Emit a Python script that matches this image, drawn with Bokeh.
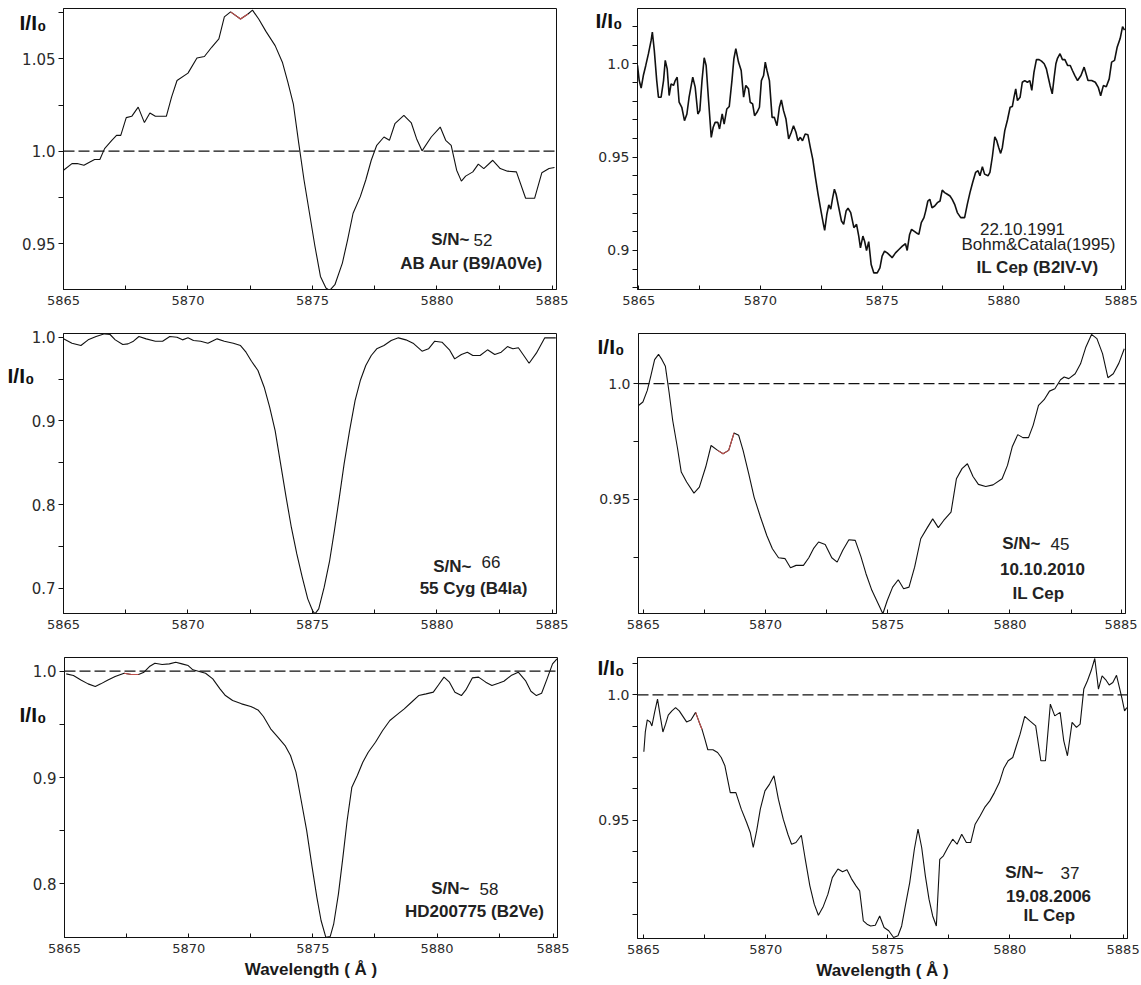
from bokeh.plotting import figure
from bokeh.models import Range1d, FixedTicker, Label, Span, NumeralTickFormatter, LinearAxis
from bokeh.layouts import column, row
from bokeh.embed import file_html
from bokeh.resources import INLINE

# ---------------- data (wavelength [A], I/I0) ----------------
AB_AUR = [(5865.00,0.9897),(5865.34,0.9933),(5865.55,0.9933),(5865.82,0.9924),(5866.06,0.9942),(5866.25,0.9955),
          (5866.46,0.9955),(5866.65,1.0014),(5866.94,1.0059),(5867.13,1.0086),(5867.30,1.0086),(5867.52,1.0182),
          (5867.74,1.0189),(5868.00,1.0239),(5868.25,1.0155),(5868.47,1.0207),(5868.69,1.0189),(5869.13,1.0189),
          (5869.34,1.0293),(5869.56,1.0383),(5870.00,1.0423),(5870.36,1.0505),(5870.66,1.0513),(5870.95,1.0563),
          (5871.24,1.0608),(5871.46,1.0728),(5871.71,1.0755),(5872.11,1.0716),(5872.41,1.0743),(5872.59,1.0764),
          (5872.84,1.0716),(5873.13,1.0649),(5873.50,1.0572),(5873.79,1.0482),(5874.01,1.0374),(5874.23,1.0257),
          (5874.45,1.0041),(5874.66,0.9844),(5874.88,0.9664),(5875.10,0.9484),(5875.32,0.9322),(5875.54,0.9259),
          (5875.69,0.9246),(5875.90,0.9277),(5876.20,0.9394),(5876.41,0.9520),(5876.63,0.9664),(5876.92,0.9754),
          (5877.14,0.9844),(5877.36,0.9951),(5877.58,1.0032),(5877.87,1.0077),(5878.09,1.0059),(5878.31,1.0149),
          (5878.67,1.0194),(5878.97,1.0153),(5879.18,1.0068),(5879.40,1.0002),(5879.77,1.0077),(5880.13,1.0131),
          (5880.35,1.0059),(5880.57,1.0032),(5880.79,0.9897),(5880.98,0.9838),(5881.15,0.9865),(5881.44,0.9888),
          (5881.66,0.9930),(5881.88,0.9906),(5882.24,0.9951),(5882.54,0.9906),(5882.83,0.9892),(5883.19,0.9888),
          (5883.56,0.9745),(5883.92,0.9745),(5884.21,0.9883),(5884.50,0.9906),(5884.72,0.9912)]

IL_CEP_1991 = [(5864.95,0.9991),(5865.02,0.9910),(5865.10,0.9870),(5865.19,0.9937),(5865.29,0.9991),(5865.40,1.0054),
          (5865.51,1.0125),(5865.56,1.0170),(5865.64,1.0072),(5865.74,0.9910),(5865.81,0.9821),(5865.92,0.9821),
          (5866.02,0.9910),(5866.09,1.0018),(5866.17,0.9973),(5866.25,0.9830),(5866.33,0.9892),(5866.43,0.9884),
          (5866.50,0.9910),(5866.58,0.9928),(5866.66,0.9794),(5866.77,0.9767),(5866.88,0.9695),(5866.98,0.9731),
          (5867.07,0.9821),(5867.22,0.9928),(5867.32,0.9875),(5867.43,0.9731),(5867.51,0.9749),(5867.60,0.9910),
          (5867.69,1.0032),(5867.77,0.9991),(5867.87,0.9803),(5867.98,0.9606),(5868.06,0.9660),(5868.14,0.9686),
          (5868.25,0.9686),(5868.32,0.9651),(5868.43,0.9731),(5868.51,0.9677),(5868.62,0.9758),(5868.72,0.9771),
          (5868.83,0.9910),(5868.91,1.0027),(5868.99,1.0081),(5869.10,1.0009),(5869.21,0.9964),(5869.31,0.9821),
          (5869.40,0.9884),(5869.51,0.9866),(5869.58,0.9794),(5869.68,0.9785),(5869.76,0.9722),(5869.86,0.9740),
          (5869.96,0.9767),(5870.04,0.9910),(5870.13,0.9937),(5870.20,1.0009),(5870.27,0.9964),(5870.37,0.9910),
          (5870.48,0.9713),(5870.57,0.9713),(5870.68,0.9668),(5870.78,0.9767),(5870.86,0.9806),(5870.95,0.9749),
          (5871.05,0.9704),(5871.16,0.9597),(5871.27,0.9633),(5871.36,0.9668),(5871.46,0.9633),(5871.54,0.9588),
          (5871.64,0.9606),(5871.73,0.9588),(5871.84,0.9624),(5871.95,0.9620),(5872.05,0.9552),(5872.15,0.9489),
          (5872.26,0.9391),(5872.37,0.9301),(5872.49,0.9211),(5872.59,0.9140),(5872.64,0.9108),(5872.73,0.9194),
          (5872.81,0.9244),(5872.89,0.9221),(5872.97,0.9283),(5873.04,0.9328),(5873.11,0.9301),(5873.22,0.9229),
          (5873.33,0.9158),(5873.42,0.9140),(5873.52,0.9211),(5873.60,0.9226),(5873.71,0.9203),(5873.84,0.9122),
          (5873.95,0.9140),(5874.04,0.9077),(5874.11,0.9014),(5874.21,0.9077),(5874.28,0.9050),(5874.36,0.9000),
          (5874.45,0.9047),(5874.55,0.8925),(5874.66,0.8880),(5874.80,0.8880),(5874.91,0.8907),(5875.00,0.8970),
          (5875.10,0.8996),(5875.21,0.8987),(5875.35,0.8970),(5875.41,0.8961),(5875.55,0.8987),(5875.69,0.9005),
          (5875.83,0.9023),(5875.96,0.9036),(5876.03,0.9000),(5876.13,0.9086),(5876.21,0.9113),(5876.31,0.9104),
          (5876.40,0.9095),(5876.51,0.9086),(5876.61,0.9149),(5876.72,0.9176),(5876.79,0.9211),(5876.88,0.9265),
          (5876.96,0.9274),(5877.05,0.9229),(5877.16,0.9238),(5877.27,0.9256),(5877.38,0.9265),(5877.47,0.9323),
          (5877.57,0.9310),(5877.68,0.9301),(5877.79,0.9292),(5877.88,0.9274),(5877.98,0.9247),(5878.09,0.9203),
          (5878.23,0.9176),(5878.39,0.9176),(5878.50,0.9247),(5878.61,0.9310),(5878.72,0.9364),(5878.84,0.9418),
          (5878.94,0.9427),(5879.02,0.9400),(5879.12,0.9448),(5879.21,0.9409),(5879.35,0.9400),(5879.43,0.9418),
          (5879.53,0.9502),(5879.63,0.9609),(5879.71,0.9588),(5879.79,0.9552),(5879.87,0.9520),(5879.94,0.9552),
          (5880.04,0.9642),(5880.15,0.9699),(5880.26,0.9767),(5880.35,0.9771),(5880.42,0.9821),(5880.49,0.9866),
          (5880.56,0.9803),(5880.67,0.9821),(5880.76,0.9901),(5880.86,0.9910),(5880.97,0.9901),(5881.07,0.9910),
          (5881.15,0.9857),(5881.24,0.9955),(5881.34,1.0022),(5881.45,1.0022),(5881.55,1.0014),(5881.66,1.0000),
          (5881.75,0.9973),(5881.83,0.9925),(5881.90,0.9884),(5881.99,0.9839),(5882.07,0.9928),(5882.14,1.0000),
          (5882.20,1.0027),(5882.31,1.0054),(5882.41,1.0022),(5882.51,1.0022),(5882.62,0.9991),(5882.73,0.9991),
          (5882.82,0.9964),(5882.92,0.9937),(5883.03,0.9910),(5883.17,0.9937),(5883.30,0.9982),(5883.46,0.9910),
          (5883.61,0.9910),(5883.76,0.9901),(5883.88,0.9874),(5883.98,0.9829),(5884.09,0.9883),(5884.21,0.9877),
          (5884.33,0.9919),(5884.43,1.0009),(5884.55,1.0018),(5884.66,1.0090),(5884.78,1.0135),(5884.88,1.0199),
          (5884.96,1.0180)]

CYG_55 = [(5865.00,0.9980),(5865.34,0.9928),(5865.70,0.9900),(5865.99,0.9968),(5866.31,1.0008),(5866.65,1.0040),
          (5866.87,1.0032),(5867.08,0.9968),(5867.38,0.9912),(5867.59,0.9920),(5867.81,0.9952),(5868.03,1.0008),
          (5868.32,0.9980),(5868.69,0.9952),(5868.98,0.9952),(5869.27,1.0008),(5869.56,1.0000),(5869.78,0.9968),
          (5870.00,0.9992),(5870.22,0.9960),(5870.51,0.9952),(5870.80,0.9928),(5871.17,0.9980),(5871.46,0.9952),
          (5871.82,0.9928),(5872.11,0.9900),(5872.33,0.9821),(5872.55,0.9713),(5872.81,0.9602),(5873.06,0.9402),
          (5873.28,0.9163),(5873.50,0.8884),(5873.72,0.8486),(5873.94,0.8088),(5874.15,0.7729),(5874.37,0.7410),
          (5874.59,0.7131),(5874.81,0.6873),(5875.00,0.6733),(5875.10,0.6693),(5875.25,0.6753),(5875.47,0.7012),
          (5875.69,0.7331),(5875.88,0.7689),(5876.08,0.8088),(5876.27,0.8486),(5876.49,0.8884),(5876.71,0.9243),
          (5876.92,0.9482),(5877.14,0.9661),(5877.36,0.9781),(5877.58,0.9861),(5877.87,0.9900),(5878.16,0.9960),
          (5878.45,0.9992),(5878.75,0.9968),(5879.04,0.9928),(5879.40,0.9833),(5879.66,0.9861),(5879.91,0.9952),
          (5880.20,0.9940),(5880.50,0.9849),(5880.71,0.9741),(5880.98,0.9793),(5881.22,0.9821),(5881.44,0.9781),
          (5881.73,0.9781),(5882.03,0.9849),(5882.32,0.9793),(5882.58,0.9821),(5882.83,0.9888),(5883.05,0.9861),
          (5883.27,0.9873),(5883.70,0.9689),(5883.99,0.9809),(5884.33,0.9992),(5884.77,0.9992)]

IL_CEP_2010 = [(5864.80,0.9906),(5864.98,0.9921),(5865.16,0.9971),(5865.31,1.0036),(5865.46,1.0104),(5865.62,1.0127),
          (5865.76,1.0104),(5865.90,1.0075),(5866.05,0.9964),(5866.20,0.9841),(5866.40,0.9719),(5866.55,0.9618),
          (5866.77,0.9575),(5867.07,0.9527),(5867.29,0.9553),(5867.55,0.9640),(5867.77,0.9733),(5868.04,0.9712),
          (5868.26,0.9697),(5868.49,0.9712),(5868.71,0.9787),(5868.90,0.9777),(5869.08,0.9712),(5869.31,0.9611),
          (5869.53,0.9510),(5869.79,0.9424),(5870.05,0.9344),(5870.28,0.9287),(5870.53,0.9248),(5870.80,0.9244),
          (5871.02,0.9205),(5871.25,0.9215),(5871.55,0.9215),(5871.77,0.9248),(5871.96,0.9287),(5872.17,0.9316),
          (5872.44,0.9305),(5872.71,0.9248),(5872.93,0.9229),(5873.16,0.9280),(5873.41,0.9326),(5873.67,0.9323),
          (5873.90,0.9254),(5874.11,0.9179),(5874.35,0.9107),(5874.61,0.9049),(5874.80,0.9006),(5874.98,0.9063),
          (5875.20,0.9121),(5875.43,0.9153),(5875.65,0.9114),(5875.87,0.9121),(5876.10,0.9207),(5876.35,0.9330),
          (5876.62,0.9378),(5876.84,0.9416),(5877.07,0.9378),(5877.29,0.9409),(5877.59,0.9445),(5877.81,0.9589),
          (5878.04,0.9633),(5878.26,0.9654),(5878.49,0.9599),(5878.71,0.9565),(5879.01,0.9556),(5879.31,0.9563),
          (5879.68,0.9589),(5879.90,0.9647),(5880.10,0.9729),(5880.32,0.9780),(5880.53,0.9767),(5880.76,0.9767),
          (5880.95,0.9820),(5881.17,0.9906),(5881.40,0.9931),(5881.62,0.9968),(5881.84,0.9978),(5882.07,1.0017),
          (5882.22,1.0029),(5882.41,1.0022),(5882.67,1.0043),(5882.89,1.0086),(5883.11,1.0159),(5883.34,1.0213),
          (5883.56,1.0195),(5883.79,1.0130),(5884.01,1.0026),(5884.23,1.0043),(5884.46,1.0089),(5884.68,1.0151)]

HD200775 = [(5865.07,0.9975),(5865.36,0.9959),(5865.66,0.9918),(5865.95,0.9881),(5866.24,0.9856),(5866.46,0.9881),
          (5866.75,0.9918),(5867.04,0.9950),(5867.40,0.9981),(5867.69,0.9969),(5867.98,0.9969),(5868.20,0.9991),
          (5868.42,1.0044),(5868.64,1.0075),(5868.93,1.0063),(5869.22,1.0069),(5869.48,1.0085),(5869.73,1.0069),
          (5869.98,1.0053),(5870.17,1.0013),(5870.39,1.0000),(5870.68,0.9981),(5870.97,0.9928),(5871.26,0.9834),
          (5871.48,0.9771),(5871.77,0.9724),(5872.13,0.9693),(5872.50,0.9668),(5872.79,0.9636),(5873.01,0.9574),
          (5873.30,0.9458),(5873.59,0.9379),(5873.88,0.9301),(5874.10,0.9207),(5874.32,0.9050),(5874.53,0.8784),
          (5874.75,0.8502),(5874.97,0.8157),(5875.16,0.7875),(5875.33,0.7655),(5875.52,0.7498),(5875.70,0.7505),
          (5875.84,0.7624),(5876.03,0.7906),(5876.21,0.8251),(5876.38,0.8596),(5876.57,0.8909),(5876.79,0.9019),
          (5877.01,0.9144),(5877.23,0.9238),(5877.52,0.9332),(5877.81,0.9442),(5878.10,0.9536),(5878.39,0.9592),
          (5878.68,0.9646),(5878.97,0.9708),(5879.26,0.9771),(5879.56,0.9787),(5879.85,0.9803),(5880.07,0.9875),
          (5880.28,0.9944),(5880.50,0.9897),(5880.72,0.9803),(5880.98,0.9771),(5881.16,0.9824),(5881.42,0.9937),
          (5881.67,0.9944),(5881.96,0.9897),(5882.21,0.9865),(5882.47,0.9887),(5882.69,0.9906),(5882.98,0.9959),
          (5883.27,0.9991),(5883.56,0.9912),(5883.78,0.9812),(5884.00,0.9771),(5884.21,0.9793),(5884.43,0.9928),
          (5884.65,1.0069),(5884.83,1.0116)]

IL_CEP_2006 = [(5865.01,0.9773),(5865.07,0.9852),(5865.15,0.9900),(5865.27,0.9892),(5865.34,0.9876),(5865.45,0.9930),
          (5865.57,0.9983),(5865.69,0.9910),(5865.79,0.9852),(5865.90,0.9883),(5866.01,0.9919),(5866.16,0.9936),
          (5866.31,0.9949),(5866.46,0.9936),(5866.61,0.9914),(5866.76,0.9892),(5866.94,0.9900),(5867.13,0.9930),
          (5867.28,0.9890),(5867.39,0.9863),(5867.51,0.9823),(5867.63,0.9781),(5867.84,0.9781),(5868.03,0.9770),
          (5868.18,0.9750),(5868.33,0.9717),(5868.55,0.9610),(5868.78,0.9610),(5869.00,0.9544),(5869.22,0.9491),
          (5869.37,0.9451),(5869.49,0.9391),(5869.63,0.9457),(5869.78,0.9544),(5869.97,0.9617),(5870.16,0.9644),
          (5870.34,0.9677),(5870.52,0.9584),(5870.72,0.9504),(5870.91,0.9444),(5871.06,0.9404),(5871.24,0.9411),
          (5871.46,0.9440),(5871.61,0.9351),(5871.81,0.9238),(5871.99,0.9165),(5872.16,0.9121),(5872.36,0.9156),
          (5872.55,0.9205),(5872.73,0.9271),(5872.96,0.9305),(5873.15,0.9294),(5873.33,0.9302),(5873.51,0.9267),
          (5873.70,0.9238),(5873.85,0.9218),(5874.00,0.9098),(5874.15,0.9085),(5874.30,0.9078),(5874.49,0.9081),
          (5874.67,0.9118),(5874.85,0.9072),(5875.04,0.9059),(5875.24,0.9032),(5875.42,0.9039),(5875.57,0.9078),
          (5875.72,0.9158),(5875.90,0.9251),(5876.09,0.9384),(5876.24,0.9464),(5876.39,0.9391),(5876.54,0.9278),
          (5876.69,0.9185),(5876.84,0.9118),(5876.99,0.9078),(5877.13,0.9344),(5877.28,0.9358),(5877.46,0.9391),
          (5877.66,0.9424),(5877.84,0.9404),(5878.03,0.9444),(5878.22,0.9411),(5878.40,0.9411),(5878.58,0.9484),
          (5878.78,0.9517),(5878.97,0.9551),(5879.18,0.9577),(5879.37,0.9610),(5879.57,0.9650),(5879.75,0.9706),
          (5879.93,0.9737),(5880.12,0.9750),(5880.27,0.9797),(5880.42,0.9843),(5880.61,0.9914),(5880.82,0.9896),
          (5881.06,0.9876),(5881.27,0.9737),(5881.46,0.9737),(5881.66,0.9963),(5881.84,0.9916),(5882.06,0.9930),
          (5882.21,0.9816),(5882.36,0.9757),(5882.55,0.9890),(5882.73,0.9870),(5882.88,0.9883),(5883.03,1.0023),
          (5883.18,1.0056),(5883.33,1.0096),(5883.48,1.0145),(5883.63,1.0023),(5883.78,1.0076),(5883.93,1.0060),
          (5884.07,1.0039),(5884.22,1.0049),(5884.37,1.0078),(5884.49,1.0029),(5884.60,0.9983),(5884.70,0.9936),
          (5884.79,0.9949)]

X_MAJOR = [5865, 5870, 5875, 5880]
X_MINOR = [5867.5, 5872.5, 5877.5, 5882.5]
Y_LABEL = "I/I\u2080"
X_LABEL = "Wavelength ( \u00c5 )"

AXIS_FONT = "DejaVu Sans"
TEXT_FONT = "Liberation Sans"
INK = "#111111"
NOTE_SIZE = "17px"


def make_panel(data, xr, yr, y_major, y_minor, geom, ylab_size, dashed, ylab_pos, lw=1.1,
               red=None, xlabel=None):
    bl, fw, br, bt, fh, bb = geom
    wl = [d[0] for d in data]
    fx = [d[1] for d in data]
    p = figure(frame_width=fw, frame_height=fh,
               min_border_left=bl, min_border_right=br, min_border_top=bt, min_border_bottom=bb,
               x_range=Range1d(*xr), y_range=Range1d(*yr),
               output_backend="svg", toolbar_location=None, tools="")
    p.grid.visible = False
    p.background_fill_color = "white"
    p.border_fill_color = "white"
    p.outline_line_color = INK
    p.outline_line_width = 1

    if dashed:
        p.add_layout(Span(location=1.0, dimension="width", line_color=INK,
                          line_width=1.2, line_dash="11 4"))
    p.line(wl, fx, line_color=INK, line_width=lw)
    if red is not None:
        rx = [a for a in wl if red[0] <= a <= red[1]]
        ry = [b for a, b in zip(wl, fx) if red[0] <= a <= red[1]]
        p.line(rx, ry, line_color="#c0504d", line_width=lw)

    xa = p.xaxis[0]
    xa.ticker = FixedTicker(ticks=X_MAJOR + [xr[1] - 0.18], minor_ticks=X_MINOR)
    xa.formatter = NumeralTickFormatter(format="0")
    xa.major_tick_in = 4
    xa.major_tick_out = 0
    xa.minor_tick_in = 4
    xa.minor_tick_out = 0
    xa.axis_line_color = INK
    xa.major_tick_line_color = INK
    xa.minor_tick_line_color = INK
    xa.major_label_text_font = AXIS_FONT
    xa.major_label_text_font_size = "13px"
    xa.major_label_text_color = "#2b2b2b"
    xa.major_label_standoff = 6
    if xlabel:
        xa.axis_label = xlabel
        xa.axis_label_text_font = TEXT_FONT
        xa.axis_label_text_font_size = "17px"
        xa.axis_label_text_font_style = "bold"
        xa.axis_label_text_color = "#1a1a1a"
        xa.axis_label_standoff = 4

    ya = p.yaxis[0]
    ya.ticker = FixedTicker(ticks=y_major, minor_ticks=y_minor)
    ya.formatter = NumeralTickFormatter(format="0.0[0]")
    ya.major_tick_in = 0
    ya.major_tick_out = 5
    ya.minor_tick_in = 0
    ya.minor_tick_out = 5
    ya.axis_line_color = INK
    ya.major_tick_line_color = INK
    ya.minor_tick_line_color = INK
    ya.major_label_text_font = AXIS_FONT
    ya.major_label_text_font_size = ylab_size
    ya.major_label_text_color = "#2b2b2b"
    ya.major_label_standoff = 3

    # the "I/I0" title: a second, tick-less axis on the left holding one label
    frac, standoff = ylab_pos
    p.extra_y_ranges = {"lab": Range1d(0, 1)}
    lab = LinearAxis(y_range_name="lab", ticker=FixedTicker(ticks=[frac], minor_ticks=[]),
                     major_label_overrides={frac: Y_LABEL})
    lab.axis_line_color = None
    lab.major_tick_line_color = None
    lab.minor_tick_line_color = None
    lab.major_tick_out = 0
    lab.major_tick_in = 0
    lab.major_label_standoff = standoff
    lab.major_label_text_font = TEXT_FONT
    lab.major_label_text_font_size = "21px"
    lab.major_label_text_font_style = "bold"
    lab.major_label_text_color = INK
    p.add_layout(lab, "left")
    return p


def add_text(p, x, y, text, size=NOTE_SIZE, bold=False, align="center", color="#222222"):
    p.add_layout(Label(x=x, y=y, x_units="screen", y_units="screen", text=text,
                       text_font=TEXT_FONT, text_font_size=size,
                       text_font_style="bold" if bold else "normal",
                       text_align=align, text_baseline="middle", text_color=color))


# ---- panel 1: AB Aur
p1 = make_panel(AB_AUR, (5865.0, 5884.8), (0.9251, 1.0773), [0.95, 1.0, 1.05], [0.975, 1.025, 1.075],
                (63, 493, 14, 8, 281, 33), "15px", True, (0.95, -27), red=(5871.7, 5872.45))
add_text(p1, 406, 50, "S/N~", bold=True, align="right")
add_text(p1, 410, 50, "52", align="left")
add_text(p1, 408, 26, "AB Aur (B9/A0Ve)", bold=True)

# ---- panel 2: IL Cep 1991
p2 = make_panel(IL_CEP_1991, (5864.95, 5885.0), (0.8791, 1.0296), [0.9, 0.95, 1.0],
                [0.88, 0.89, 0.91, 0.92, 0.93, 0.94, 0.96, 0.97, 0.98, 0.99, 1.01, 1.02],
                (67, 488, 16, 8, 281, 33), "14px", False, (0.957, -27), lw=1.6)
add_text(p2, 385, 61, "22.10.1991")
add_text(p2, 401, 45, "Bohm&Catala(1995)")
add_text(p2, 400, 22, "IL Cep (B2IV-V)", bold=True)

# ---- panel 3: 55 Cyg
p3 = make_panel(CYG_55, (5865.0, 5884.8), (0.6698, 1.0044), [0.7, 0.8, 0.9, 1.0], [0.75, 0.85, 0.95],
                (63, 493, 14, 11, 280, 32), "15px", False, (0.85, -6))
add_text(p3, 408, 47, "S/N~", bold=True, align="right")
add_text(p3, 418, 52, "66", align="left")
add_text(p3, 410, 25, "55 Cyg (B4Ia)", bold=True)

# ---- panel 4: IL Cep 2010
p4 = make_panel(IL_CEP_2010, (5864.8, 5884.73), (0.9007, 1.0217), [0.95, 1.0], [0.925, 0.975],
                (68, 487, 16, 11, 280, 32), "14px", True, (0.954, -28), red=(5867.9, 5868.75))
add_text(p4, 402, 70, "S/N~", bold=True, align="right")
add_text(p4, 412, 70, "45", align="left")
add_text(p4, 404, 45, "10.10.2010", bold=True)
add_text(p4, 400, 20, "IL Cep", bold=True)

# ---- panel 5: HD200775
p5 = make_panel(HD200775, (5865.0, 5884.85), (0.7495, 1.0129), [0.8, 0.9, 1.0], [0.85, 0.95],
                (64, 493, 13, 12, 280, 46), "15px", True, (0.796, -17), red=(5867.4, 5868.1),
                xlabel=X_LABEL)
add_text(p5, 405, 49, "S/N~", bold=True, align="right")
add_text(p5, 415, 49, "58", align="left")
add_text(p5, 410, 26, "HD200775 (B2Ve)", bold=True)

# ---- panel 6: IL Cep 2006
p6 = make_panel(IL_CEP_2006, (5864.75, 5884.82), (0.9028, 1.0149), [0.95, 1.0],
                [0.9125, 0.925, 0.9375, 0.9625, 0.975, 0.9875, 1.0125],
                (67, 490, 14, 10, 281, 47), "14px", True, (0.964, -29), red=(5867.1, 5867.4),
                xlabel=X_LABEL)
add_text(p6, 406, 66, "S/N~", bold=True, align="right")
add_text(p6, 423, 66, "37", align="left")
add_text(p6, 411, 43, "19.08.2006", bold=True)
add_text(p6, 412, 23, "IL Cep", bold=True)

layout = column(row(p1, p2), row(p3, p4), row(p5, p6))

with open("out.html", "w") as f:
    f.write(file_html(layout, INLINE))
